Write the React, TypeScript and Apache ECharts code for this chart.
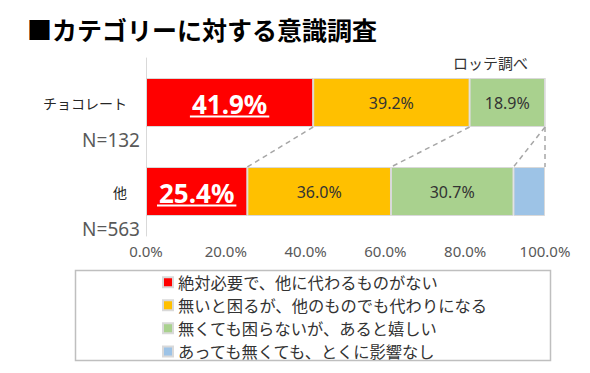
import React, { useEffect, useRef } from "react";
import * as echarts from "echarts";

const FONT = '"Noto Sans CJK JP", "Noto Sans", sans-serif';
const LATIN = '"Noto Sans", "Noto Sans CJK JP", sans-serif';

const categories = ["チョコレート", "他"];
const sampleSizes = ["N=132", "N=563"];
const seriesNames = [
  "絶対必要で、他に代わるものがない",
  "無いと困るが、他のものでも代わりになる",
  "無くても困らないが、あると嬉しい",
  "あっても無くても、とくに影響なし",
];
const absolutelyNeeded = [41.9, 25.4];
const substitutable = [39.2, 36.0];
const niceToHave = [18.9, 30.7];
const noImpact = [0, 7.9];
const xTicks = [0, 20, 40, 60, 80, 100];
const colors = ["#FF0000", "#FFC000", "#A9D18E", "#9DC3E6"];

const BAR_W = 49;
const BIG_FONT_SIZE = 26;

function textWidth(t: string, font: string): number {
  const c = document.createElement("canvas").getContext("2d");
  if (!c) return t.length * 14;
  c.font = font;
  return c.measureText(t).width;
}

const fmt = (v: number) => v.toFixed(1) + "%";

export default function App() {
  const ref = useRef<HTMLDivElement>(null);
  useEffect(() => {
    document.body.style.margin = "0";
    if (!ref.current) return;
    const chart = echarts.init(ref.current, null, { renderer: "svg" });
    const all = [absolutelyNeeded, substitutable, niceToHave, noImpact];
    const cum = categories.map((_, i) => {
      let s = 0;
      return all.map((arr) => (s += arr[i]));
    });
    const connectors = [0, 1, 2, 3].map((k) => [
      Math.min(cum[0][k], 100),
      Math.min(cum[1][k], 100),
      0,
    ]);
    const underlines = absolutelyNeeded.map((v, i) => [
      v / 2,
      i,
      textWidth(fmt(v), `bold ${BIG_FONT_SIZE}px ${LATIN}`) + 4,
    ]);

    const barSeries = all.map((arr, si) => ({
      name: seriesNames[si],
      type: "bar",
      stack: "total",
      barWidth: BAR_W,
      data: arr,
      itemStyle: { color: colors[si], borderColor: "#d9d9d9", borderWidth: 1 },
      label:
        si === 3
          ? { show: false }
          : si === 0
          ? {
              show: true,
              position: "inside",
              formatter: (p: any) => fmt(p.value),
              color: "#ffffff",
              fontSize: BIG_FONT_SIZE,
              fontWeight: "bold",
              fontFamily: LATIN,
              offset: [0, 1],
            }
          : {
              show: true,
              position: "inside",
              formatter: (p: any) => fmt(p.value),
              color: "#333333",
              fontSize: 16,
              fontFamily: LATIN,
            },
      emphasis: { disabled: true },
    }));

    chart.setOption({
      animation: false,
      textStyle: { fontFamily: FONT },
      grid: { left: 146, right: 45, top: 58, bottom: 137 },
      title: {
        text: "■カテゴリーに対する意識調査",
        left: 22,
        top: 11,
        textStyle: { fontSize: 25, fontWeight: "bold", color: "#000", fontFamily: FONT },
      },
      graphic: [
        {
          type: "text",
          x: 453,
          y: 62,
          style: { text: "ロッテ調べ", fontSize: 15, fill: "#333", fontFamily: FONT, verticalAlign: "middle" },
        },
        {
          type: "rect",
          shape: { x: 75.5, y: 270.5, width: 475, height: 90 },
          style: { fill: "none", stroke: "#bfbfbf", lineWidth: 1.5 },
        },
      ],
      legend: {
        orient: "vertical",
        left: 162,
        top: 274,
        padding: 0,
        itemGap: 6.8,
        itemWidth: 10,
        itemHeight: 10,
        icon: "rect",
        data: seriesNames,
        textStyle: { fontSize: 16.3, color: "#333", fontFamily: FONT },
      },
      xAxis: {
        type: "value",
        min: 0,
        max: 100,
        interval: 20,
        axisLine: { show: false },
        axisTick: { show: false },
        splitLine: { show: false },
        axisLabel: {
          formatter: (v: number) => (xTicks.includes(v) ? fmt(v) : ""),
          color: "#595959",
          fontSize: 15,
          margin: 7,
          fontFamily: LATIN,
        },
      },
      yAxis: {
        type: "category",
        inverse: true,
        data: categories,
        axisLine: { show: true, lineStyle: { color: "#d9d9d9", width: 1 } },
        axisTick: { show: false },
        axisLabel: {
          interval: 0,
          hideOverlap: false,
          margin: 6,
          formatter: (value: string, index: number) =>
            `{sp| }\n{name|${value}}\n{n|${sampleSizes[index]}}`,
          rich: {
            sp: { fontSize: 14, lineHeight: 37 },
            name: { fontSize: 14, lineHeight: 37, color: "#262626", padding: [0, 13, 0, 0], fontFamily: FONT },
            n: { fontSize: 19, lineHeight: 37, color: "#595959", fontFamily: LATIN },
          },
        },
      },
      series: [
        ...barSeries,
        {
          type: "custom",
          name: "connectors",
          coordinateSystem: "cartesian2d",
          silent: true,
          encode: { x: [0, 1], y: 2 },
          data: connectors,
          z: 5,
          renderItem: (params: any, api: any) => {
            const p1 = api.coord([api.value(0), 0]);
            const p2 = api.coord([api.value(1), 1]);
            return {
              type: "line",
              shape: { x1: p1[0], y1: p1[1] + BAR_W / 2, x2: p2[0], y2: p2[1] - BAR_W / 2 },
              style: { stroke: "#a6a6a6", lineWidth: 1.5, lineDash: [5, 4] },
            };
          },
        },
        {
          type: "custom",
          name: "underlines",
          coordinateSystem: "cartesian2d",
          silent: true,
          encode: { x: 0, y: 1 },
          data: underlines,
          z: 6,
          renderItem: (params: any, api: any) => {
            const c = api.coord([api.value(0), api.value(1)]);
            const w = api.value(2);
            const y = c[1] + 14;
            return {
              type: "line",
              shape: { x1: c[0] - w / 2, y1: y, x2: c[0] + w / 2, y2: y },
              style: { stroke: "#ffffff", lineWidth: 2 },
            };
          },
        },
      ],
    });
    return () => chart.dispose();
  }, []);
  return <div ref={ref} style={{ width: 590, height: 373 }} />;
}
